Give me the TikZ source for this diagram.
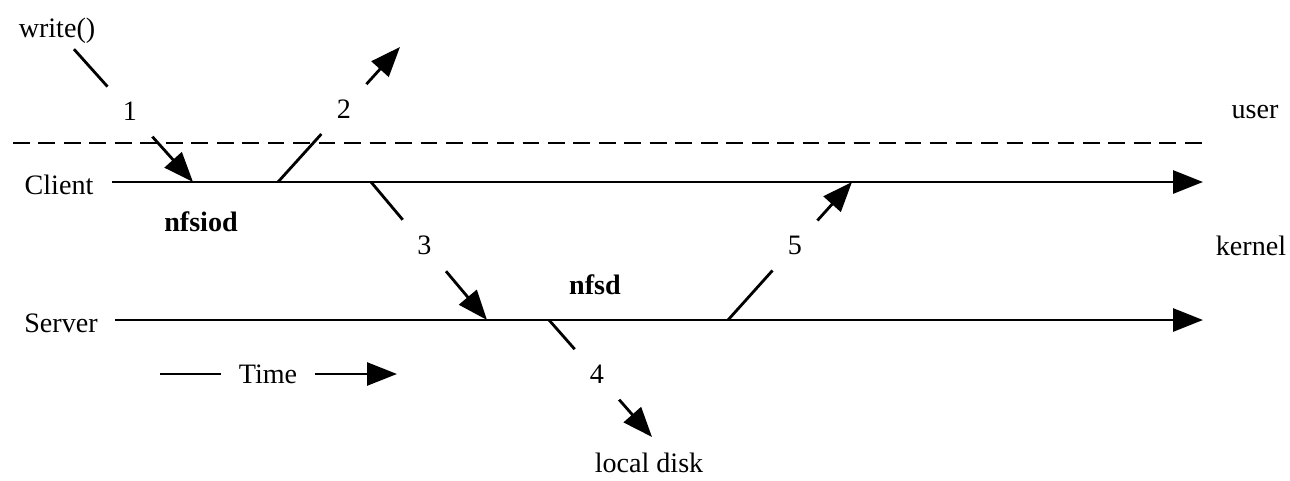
\documentclass[tikz,border=0pt]{standalone}
\usepackage{fontspec}
\setmainfont{Liberation Serif}
\usetikzlibrary{arrows.meta}
\newcommand\figfont{\fontsize{16}{19}\selectfont}
\tikzset{
  tline/.style={line width=1.7pt, -{Triangle[length=17pt, width=13pt]}},
  arr/.style={line width=1.6pt, -{Triangle[length=17pt, width=13pt]}},
  note/.style={font=\figfont, anchor=base},
  proc/.style={font=\figfont\bfseries, anchor=base},
}

\begin{document}
\begin{tikzpicture}[x=0.02cm, y=-0.02cm,
    num/.style={circle, fill=white, inner sep=0pt, minimum size=1.34cm, font=\figfont}]
  \useasboundingbox (0,0) rectangle (1290,480);
  % texts
  \node[note] (write) at (57,37) {write()};
  \node[note] (client) at (59,194) {Client};
  \node[note] (server) at (61,332) {Server};
  \node[note] (user) at (1255,118) {user};
  \node[note] (kernel) at (1251,255) {kernel};
  \node[proc] (nfsiod) at (201,231) {nfsiod};
  \node[proc] (nfsd) at (595,294) {nfsd};
  \node[note] (disk) at (649,472) {local disk};
  % time lines
  \coordinate (c0) at (112,182);
  \coordinate (c1) at (1203,182);
  \coordinate (s0) at (115,320);
  \coordinate (s1) at (1203,320);
  \draw[tline] (c0) -- (c1);
  \draw[tline] (s0) -- (s1);
  % steps
  \coordinate (a1) at (193,182);
  \coordinate (b2) at (278,182);
  \coordinate (a2) at (400,47);
  \coordinate (b3) at (371,182);
  \coordinate (a3) at (487,320);
  \coordinate (b4) at (549,320);
  \coordinate (a4) at (652,437);
  \coordinate (b5) at (728,320);
  \coordinate (a5) at (852,182);
  \draw[arr] (write) -- node[num, pos=0.47] {1} (a1);
  \draw[arr] (b2) -- node[num, pos=0.54] {2} (a2);
  \draw[arr] (b3) -- node[num, pos=0.46] {3} (a3);
  \draw[arr] (b4) -- node[num, pos=0.465] {4} (a4);
  \draw[arr] (b5) -- node[num, pos=0.54] {5} (a5);
  % user / kernel
  \coordinate (u0) at (13,143);
  \coordinate (u1) at (1208,143);
  \draw[line width=1.7pt, dash pattern=on 9.5pt off 5pt] (u0) -- (u1);
  % time
  \node[font=\figfont, inner xsep=10pt] (time) at (268,374) {Time};
  \coordinate (t0) at (160,374);
  \coordinate (t1) at (397,374);
  \draw[line width=1.6pt] (t0) -- (time);
  \draw[arr] (time) -- (t1);
\end{tikzpicture}
\end{document}
